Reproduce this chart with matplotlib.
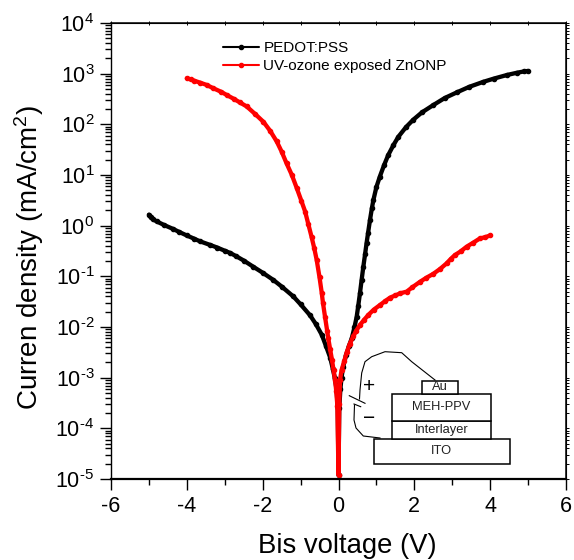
import matplotlib
matplotlib.use("Agg")
import matplotlib.pyplot as plt
from matplotlib.patches import Rectangle
from matplotlib.transforms import Affine2D
from matplotlib.ticker import FixedLocator, LogLocator, MultipleLocator, NullFormatter

plt.rcParams['font.family'] = ['Liberation Sans', 'DejaVu Sans']
plt.rcParams['mathtext.fontset'] = 'custom'
plt.rcParams['mathtext.rm'] = 'Liberation Sans'
plt.rcParams['mathtext.default'] = 'regular'
plt.rcParams['axes.unicode_minus'] = False

black_x = [-5, -4.95, -4.89, -4.8, -4.6, -4.36, -4.2, -4, -3.8, -3.65, -3.4, -3.2, -3, -2.86, -2.7, -2.5, -2.25, -2,
           -1.72, -1.5, -1.19, -1, -0.75, -0.6, -0.44, -0.33, -0.22, -0.15, -0.1, -0.05, -0.02, 0,
           0.02, 0.05, 0.08, 0.12, 0.2, 0.28, 0.35, 0.42, 0.48, 0.52, 0.567, 0.61, 0.655, 0.7, 0.74, 0.78, 0.83, 0.88,
           0.92, 1, 1.09, 1.2, 1.31, 1.45, 1.58, 1.78, 1.97, 2.2, 2.5, 2.8, 3.12, 3.45, 3.82, 4.1, 4.44, 4.7, 4.9, 5]
black_y = [1.65, 1.45, 1.33, 1.22, 1.03, 0.86, 0.75, 0.64, 0.55, 0.49, 0.42, 0.37, 0.32, 0.29, 0.25, 0.205, 0.155, 0.118,
           0.085, 0.063, 0.04, 0.028, 0.017, 0.0115, 0.007, 0.0042, 0.0025, 0.0015, 0.001, 0.00058, 0.00025, 1.2e-5,
           0.00025, 0.0006, 0.001, 0.0016, 0.0028, 0.0043, 0.006, 0.0098, 0.016, 0.026, 0.047, 0.085, 0.155, 0.27, 0.45, 0.72, 1.29, 2.2,
           3.2, 5.8, 9.3, 15.5, 24.6, 39, 57, 88, 123, 172, 240, 330, 427, 550, 690, 800, 940, 1040, 1110, 1130]

red_x = [-4, -3.9, -3.8, -3.65, -3.48, -3.3, -3.1, -2.95, -2.75, -2.6, -2.42, -2.2, -1.98, -1.8, -1.63, -1.5, -1.37, -1.23,
         -1.1, -0.98, -0.88, -0.8, -0.71, -0.64, -0.575, -0.5, -0.44, -0.41, -0.356, -0.3, -0.27, -0.22, -0.17, -0.13,
         -0.09, -0.06, -0.03, 0,
         0.02, 0.04, 0.08, 0.15, 0.22, 0.3, 0.39, 0.47, 0.567, 0.68, 0.79, 0.93, 1.09, 1.22, 1.36, 1.5, 1.62, 1.8, 1.95,
         2.15, 2.32, 2.5, 2.68, 2.85, 2.96, 3.07, 3.22, 3.38, 3.55, 3.73, 3.86, 4]
red_y = [810, 770, 725, 665, 600, 515, 440, 380, 315, 270, 225, 160, 112, 74, 46, 29, 17, 10,
         5.5, 3.1, 1.9, 1.1, 0.6, 0.36, 0.21, 0.095, 0.046, 0.03, 0.016, 0.0085, 0.006, 0.0036, 0.0022, 0.0014,
         0.0009, 0.00055, 0.00028, 1.2e-5,
         0.0003, 0.0009, 0.0014, 0.0021, 0.0032, 0.0047, 0.0065, 0.0085, 0.011, 0.014, 0.0174, 0.022, 0.027, 0.032, 0.038, 0.042, 0.046, 0.05, 0.061,
         0.078, 0.094, 0.112, 0.14, 0.18, 0.22, 0.263, 0.31, 0.385, 0.46, 0.56, 0.59, 0.64]

labels = ["PEDOT:PSS", "UV-ozone exposed ZnONP"]
stack_layers = ["ITO", "Interlayer", "MEH-PPV", "Au"]
y_ticks = [1e-5, 1e-4, 1e-3, 1e-2, 1e-1, 1e0, 1e1, 1e2, 1e3, 1e4]
y_tick_labels = ["10$^{\\text{-}5}$", "10$^{\\text{-}4}$", "10$^{\\text{-}3}$", "10$^{\\text{-}2}$", "10$^{\\text{-}1}$",
                 "10$^{0}$", "10$^{1}$", "10$^{2}$", "10$^{3}$", "10$^{4}$"]

W, H = 574, 560
fig = plt.figure(figsize=(W / 100, H / 100), dpi=100)
ax = fig.add_axes([111 / W, 1 - 479 / H, 455 / W, 456 / H])
px = Affine2D().scale(1 / W, -1 / H).translate(0, 1) + fig.transFigure

ax.plot(black_x, black_y, color='black', lw=3.1, marker='o', ms=3.0, label=labels[0], solid_capstyle='round')
ax.plot(red_x, red_y, color='red', lw=3.1, marker='o', ms=3.0, label=labels[1], solid_capstyle='round')

ax.set_yscale('log')
ax.set_xlim(-6, 6)
ax.set_ylim(1e-5, 1e4)
ax.xaxis.set_major_locator(MultipleLocator(2))
ax.xaxis.set_minor_locator(MultipleLocator(1))
ax.set_yticks(y_ticks, y_tick_labels)
ax.yaxis.set_minor_locator(LogLocator(base=10, subs=range(2, 10), numticks=12))
ax.yaxis.set_minor_formatter(NullFormatter())
ax.tick_params(which='major', length=8, width=1, labelsize=15.5)
ax.tick_params(axis='x', which='major', pad=4)
ax.tick_params(axis='y', which='major', pad=4)
ax.tick_params(which='minor', length=4.3, width=1)
ax.spines['left'].set_linewidth(1.0)
ax.spines['bottom'].set_linewidth(1.6)
ax.spines['top'].set_linewidth(1.1)
ax.spines['right'].set_linewidth(1.1)

ax2 = ax.secondary_xaxis('top')
ax2.xaxis.set_major_locator(MultipleLocator(1))
ax2.tick_params(which='major', direction='inout', length=3, width=0.7, labeltop=False)
ax3 = ax.secondary_yaxis('right')
ax3.set_yscale('log')
ax3.yaxis.set_major_locator(FixedLocator(y_ticks))
ax3.yaxis.set_minor_locator(LogLocator(base=10, subs=range(2, 10), numticks=12))
ax3.yaxis.set_minor_formatter(NullFormatter())
ax3.tick_params(which='both', direction='out', length=2, width=0.7, labelright=False)

ax.set_xlabel("Bis voltage (V)", fontsize=19.8)
ax.xaxis.label.set_va('baseline')
ax.xaxis.set_label_coords(347.5, 553, transform=px)
ax.set_ylabel("Curren density (mA/cm$^2$)", fontsize=20)
ax.yaxis.label.set_va('baseline')
ax.yaxis.set_label_coords(38, 257, transform=px)

leg = ax.legend(loc='upper left', bbox_to_anchor=(223 / W, 1 - 41 / H), bbox_transform=fig.transFigure,
                frameon=False, fontsize=11, handlelength=2.36, handletextpad=0.28, labelspacing=0.27,
                borderpad=0, borderaxespad=0)
for h in leg.legend_handles:
    h.set_linewidth(1.5)
    h.set_markersize(3)

# device schematic, drawn in pixel coordinates of the figure
rects = [(373.7, 438.7, 509.7, 464), (391.7, 420.7, 491, 438.7), (391.7, 394.3, 491, 420.7), (421.7, 380.7, 458.3, 394.3)]
for (x0, y0, x1, y1), name in zip(rects, stack_layers):
    fig.add_artist(Rectangle((x0, y0), x1 - x0, y1 - y0, transform=px, fc='white', ec='black', lw=1.1, zorder=5))
    fig.text((x0 + x1) / 2, (y0 + y1) / 2, name, transform=px, ha='center', va='center', fontsize=9.3, zorder=6, color='#222222')

wire_top_x = [435, 411.7, 401.7, 385, 371.7, 365, 361.7, 360, 359.5]
wire_top_y = [380, 361.7, 352.7, 351.7, 356.7, 361.7, 373, 390, 399]
wire_bot_x = [354.5, 354, 356, 363.3, 380]
wire_bot_y = [405, 420, 428, 436, 438]
fig.add_artist(plt.Line2D(wire_top_x, wire_top_y, transform=px, color='black', lw=0.8, zorder=5))
fig.add_artist(plt.Line2D(wire_bot_x, wire_bot_y, transform=px, color='black', lw=0.8, zorder=5))
fig.add_artist(plt.Line2D([349.3, 365], [395.7, 403.3], transform=px, color='black', lw=0.8, zorder=5))
fig.add_artist(plt.Line2D([354, 360.7], [404, 406.7], transform=px, color='black', lw=0.8, zorder=5))
fig.text(369, 386.7, "+", transform=px, ha='center', va='center', fontsize=15, zorder=6)
fig.text(369, 419, "\u2212", transform=px, ha='center', va='center', fontsize=15, zorder=6)

fig.savefig("out.png", dpi=100)
